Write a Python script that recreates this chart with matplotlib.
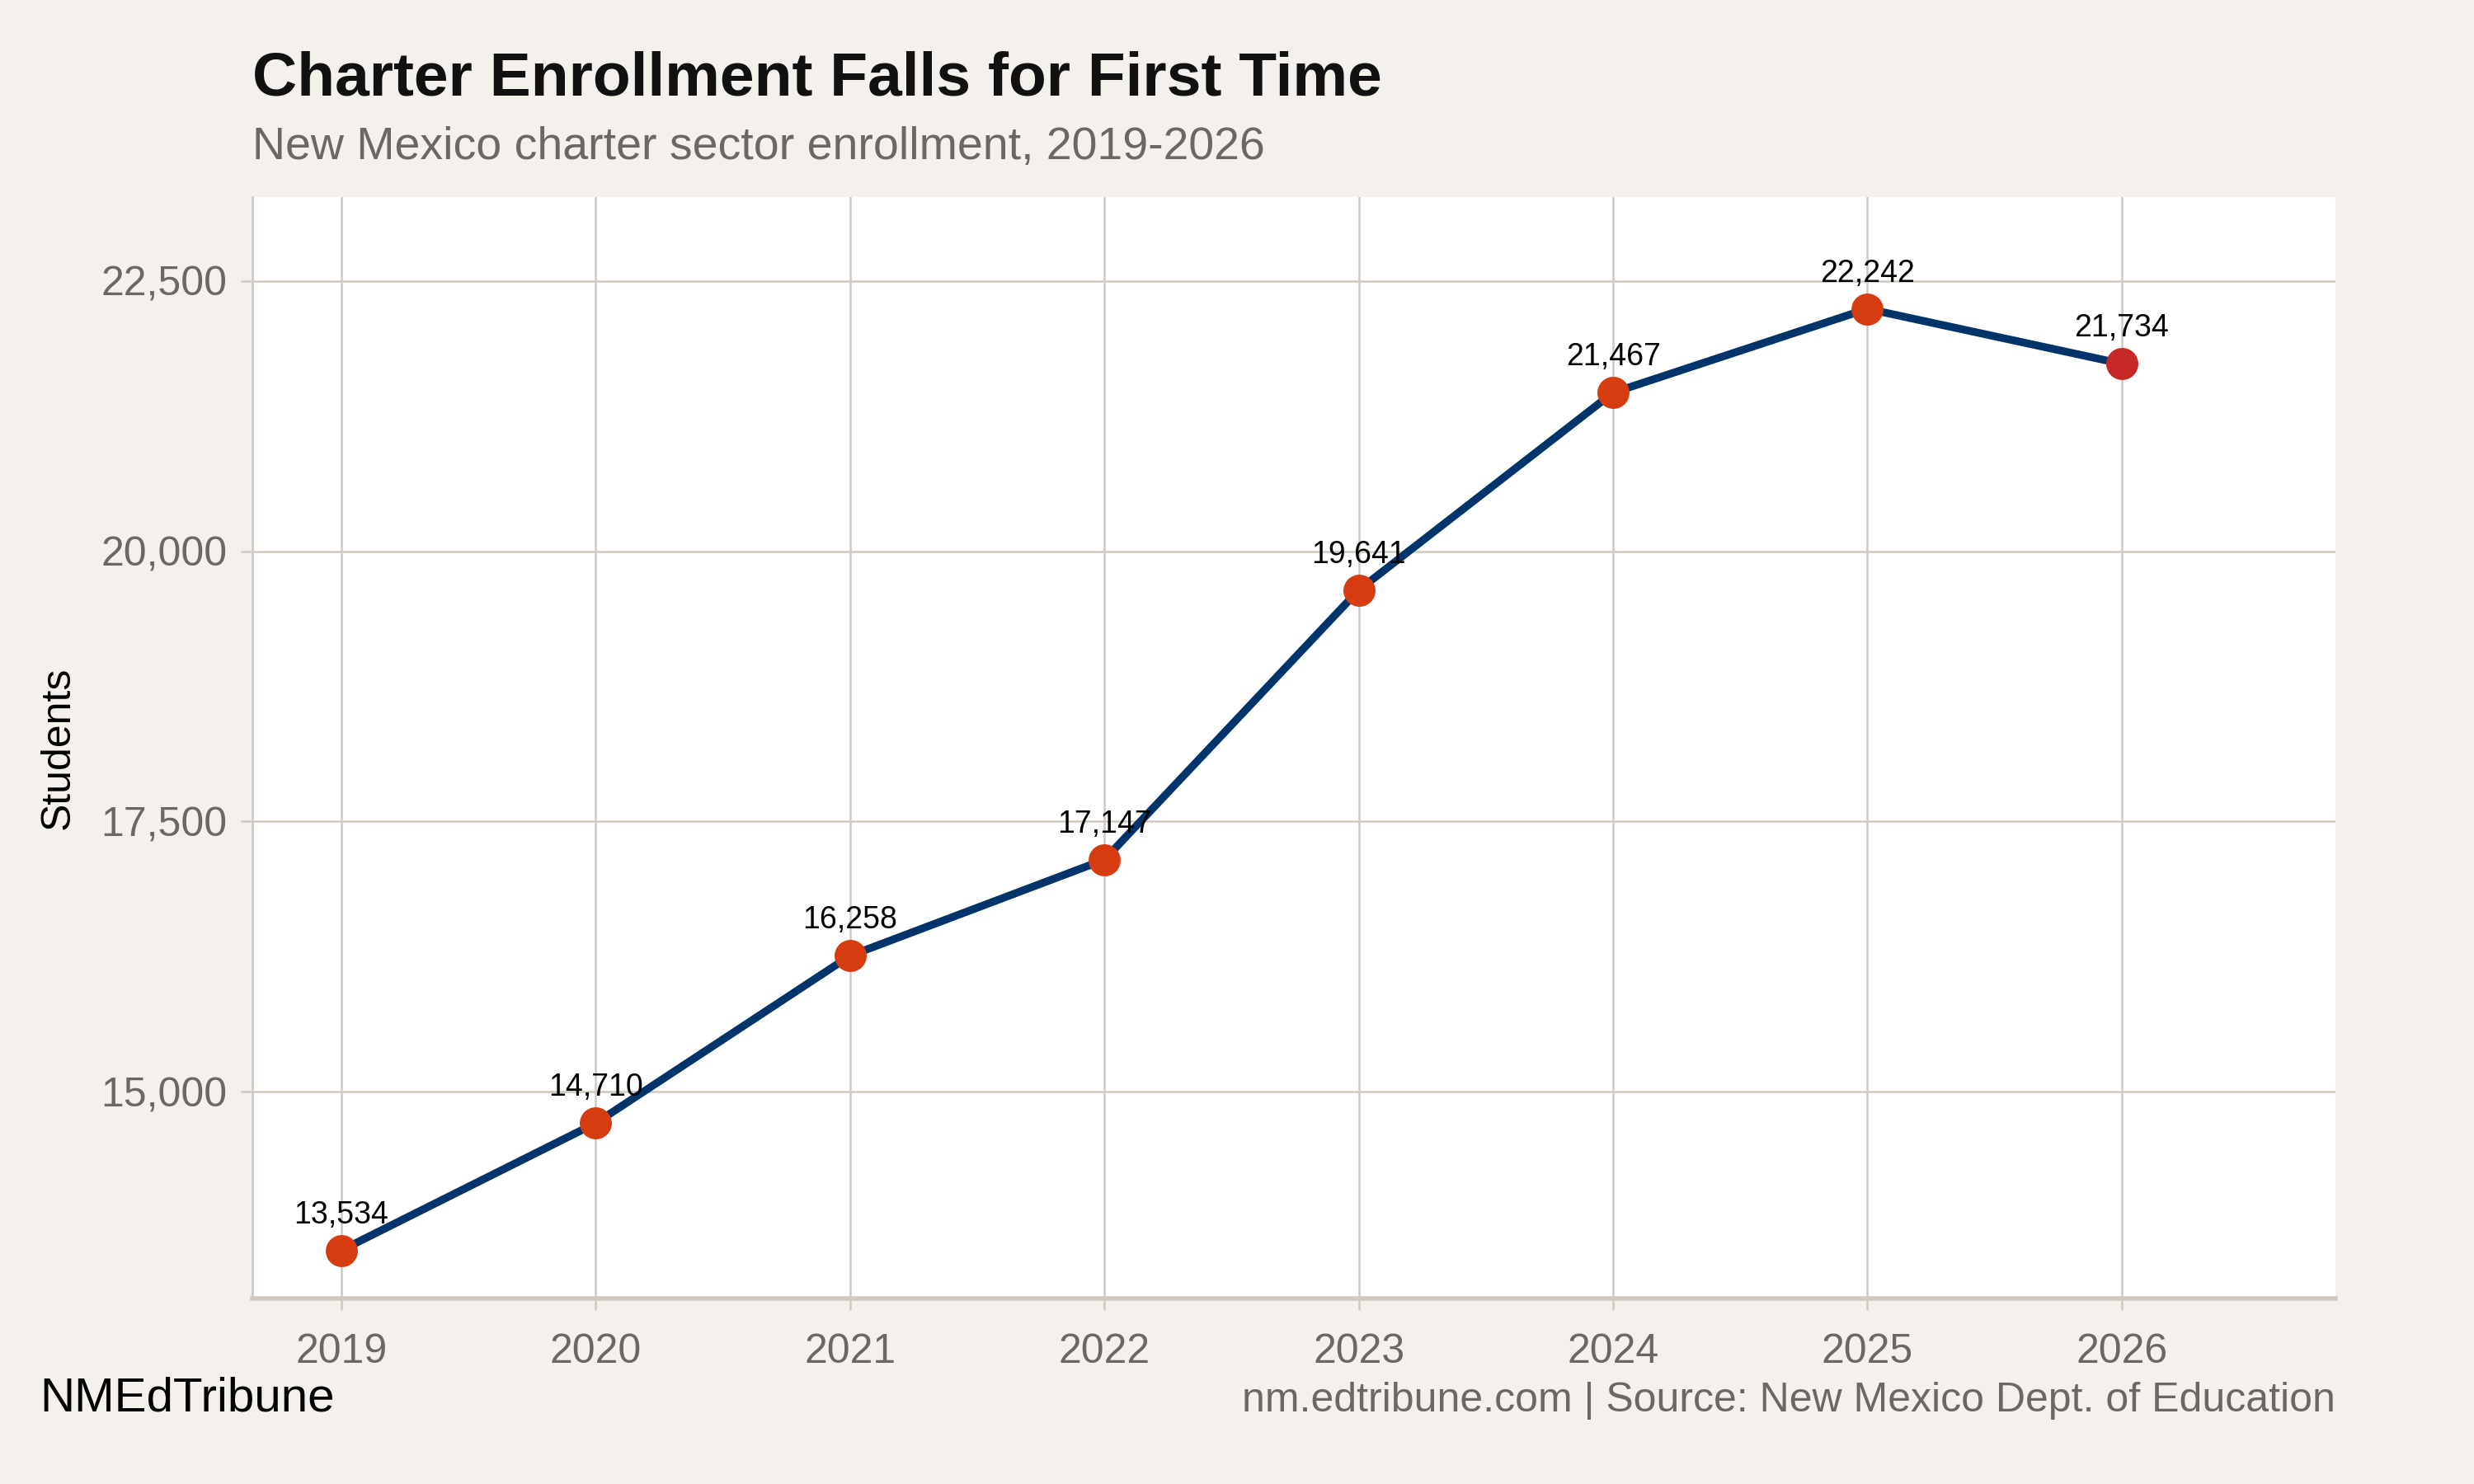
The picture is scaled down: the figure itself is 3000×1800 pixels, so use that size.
import matplotlib
matplotlib.use("Agg")
import matplotlib.pyplot as plt
from matplotlib.ticker import FuncFormatter

plt.rcParams['font.family'] = ['Liberation Sans', 'DejaVu Sans']

years = [2019, 2020, 2021, 2022, 2023, 2024, 2025, 2026]
enrollment = [13534, 14710, 16258, 17147, 19641, 21467, 22242, 21734]
yticks = [15000, 17500, 20000, 22500]

bg = '#f4f1ec'
grid_c = '#cfc9c0'
navy = '#00356b'
orange = '#d63c10'
red = '#c62828'
gray_txt = '#6b6862'

fig = plt.figure(figsize=(15, 9), dpi=200, facecolor=bg)
ax = fig.add_axes([0.102, 0.125, 0.842, 0.742])
ax.set_facecolor('white')

ax.plot(years, enrollment, color=navy, lw=3.4, zorder=3)
ax.scatter(years[:-1], enrollment[:-1], s=14**2, color=orange, zorder=4, linewidths=0)
ax.scatter(years[-1:], enrollment[-1:], s=14**2, color=red, zorder=4, linewidths=0)

for x, y in zip(years, enrollment):
    ax.annotate(f"{y:,}", (x, y), xytext=(0, 9), textcoords='offset points',
                ha='center', va='bottom', fontsize=13.5, color='black', zorder=5)

ax.set_xlim(2018.65, 2026.84)
ax.set_ylim(13088, 23273)
ax.set_xticks(years)
ax.set_yticks(yticks)
ax.yaxis.set_major_formatter(FuncFormatter(lambda v, p: f"{int(v):,}"))
ax.grid(True, color=grid_c, lw=0.9, zorder=0)
ax.set_axisbelow(True)

for s in ['top', 'right']:
    ax.spines[s].set_visible(False)
ax.spines['left'].set_color(grid_c)
ax.spines['left'].set_linewidth(1.0)
ax.spines['bottom'].set_color(grid_c)
ax.spines['bottom'].set_linewidth(2.0)

ax.tick_params(axis='both', colors=grid_c, labelcolor=gray_txt, labelsize=18,
               length=5, width=0.9)
ax.tick_params(axis='x', pad=10)
ax.tick_params(axis='y', pad=6)

fig.text(0.0236, 0.496, 'Students', fontsize=18, color='black', rotation=90,
         ha='center', va='center')
fig.text(0.102, 0.936, 'Charter Enrollment Falls for First Time', fontsize=27,
         fontweight='bold', color='#111111', ha='left', va='baseline')
fig.text(0.102, 0.893, 'New Mexico charter sector enrollment, 2019-2026', fontsize=20,
         color=gray_txt, ha='left', va='baseline')
fig.text(0.016, 0.049, 'NMEdTribune', fontsize=21, color='black', ha='left', va='baseline')
fig.text(0.944, 0.049, 'nm.edtribune.com | Source: New Mexico Dept. of Education',
         fontsize=18, color=gray_txt, ha='right', va='baseline')

fig.savefig('out.png', dpi=200, facecolor=bg)
